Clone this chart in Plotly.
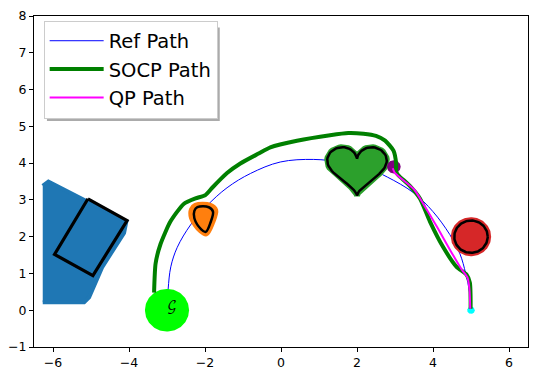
import numpy as np
import plotly.graph_objects as go

# ── Paths ─────────────────────────────────────────────────────────
ref_x = [-3.0, -2.97, -2.9, -2.73, -2.38, -1.94, -1.42, -0.8, -0.02, 0.86,
         1.6, 2.3, 2.8, 3.48, 4.0, 4.44, 4.71, 4.86, 4.96, 5.0]
ref_y = [0.0, 0.57, 1.18, 1.71, 2.32, 2.85, 3.33, 3.72, 4.03, 4.1,
         4.02, 3.85, 3.62, 3.2, 2.68, 2.06, 1.53, 1.0, 0.5, 0.0]

socp_x = [-3.34, -3.3, -3.17, -2.91, -2.56, -2.25, -1.99, -1.81, -1.42, -1.07,
          -0.59, -0.28, 0.42, 1.29, 1.77, 2.17, 2.5, 2.74, 2.96, 3.03,
          3.03, 3.08, 3.39, 3.66, 3.92, 4.27, 4.62, 4.88, 4.97, 4.99]
socp_y = [0.48, 1.27, 1.8, 2.41, 2.89, 3.04, 3.13, 3.33, 3.73, 3.99,
          4.26, 4.43, 4.61, 4.76, 4.82, 4.8, 4.74, 4.61, 4.34, 3.99,
          3.77, 3.68, 3.38, 3.03, 2.41, 1.71, 1.18, 0.97, 0.75, 0.04]

qp_x = [2.94, 3.0, 3.5, 3.77, 4.12, 4.46, 4.76, 4.91, 4.96, 4.98]
qp_y = [3.86, 3.73, 3.29, 2.85, 2.24, 1.62, 1.1, 0.88, 0.57, 0.04]

# ── Obstacles ─────────────────────────────────────────────────────
poly_x = [-6.27, -6.12, -4.07, -4.13, -4.7, -5.05, -5.18, -6.27]
poly_y = [3.38, 3.5, 2.41, 2.1, 1.18, 0.35, 0.22, 0.22]
rect_x = [-5.08, -4.05, -4.95, -5.96, -5.08]
rect_y = [3.03, 2.44, 0.94, 1.52, 3.03]

tri_x = [-2.2, -1.9, -1.79, -1.85, -1.98, -2.1, -2.28, -2.28, -2.2]
tri_y = [2.8, 2.8, 2.68, 2.4, 2.13, 2.2, 2.5, 2.7, 2.8]
tri_c = (-2.03, 2.47)

heart_c = (2.0, 3.89)
heart_s = (0.049, 0.0455)

red_c, red_r, red_rin = (5.0, 2.0), 0.53, 0.44
obs_c, obs_r = (2.97, 3.9), 0.18
goal_c, goal_r = (-3.0, 0.0), 0.58
start_c, start_r = (5.0, 0.0), 0.1

TAB_BLUE, TAB_ORANGE, TAB_GREEN, TAB_RED = "#1f77b4", "#ff7f0e", "#2ca02c", "#d62728"

t = np.linspace(0, 2 * np.pi, 120)


def circle(c, r):
    return c[0] + r * np.cos(t), c[1] + r * np.sin(t)


def blob(x, y, color, lw=0, shape="linear"):
    return go.Scatter(x=x, y=y, mode="lines", fill="toself", fillcolor=color,
                      line=dict(color=color, width=lw, shape=shape), showlegend=False,
                      hoverinfo="skip")


def outline(x, y, width=3, shape="linear"):
    return go.Scatter(x=x, y=y, mode="lines", line=dict(color="black", width=width, shape=shape),
                      showlegend=False, hoverinfo="skip")


fig = go.Figure()

# reference path (drawn first, obstacles cover it)
fig.add_trace(go.Scatter(x=ref_x, y=ref_y, mode="lines", name="Ref Path",
                         line=dict(color="blue", width=1, shape="spline")))

# left polygon obstacle
fig.add_trace(blob(poly_x, poly_y, TAB_BLUE, lw=4))
fig.add_trace(outline(rect_x, rect_y, width=3.2))

# orange rounded triangle
tx = np.array(tri_x); ty = np.array(tri_y)
fig.add_trace(blob(tri_c[0] + (tx - tri_c[0]) * 1.35, tri_c[1] + (ty - tri_c[1]) * 1.2,
                   TAB_ORANGE, lw=4, shape="spline"))
fig.add_trace(outline(tri_x, tri_y, width=2.5, shape="spline"))

# heart
hx = heart_c[0] + heart_s[0] * 16 * np.sin(t) ** 3
hy = heart_c[1] + heart_s[1] * (13 * np.cos(t) - 5 * np.cos(2 * t) - 2 * np.cos(3 * t) - np.cos(4 * t))
fig.add_trace(blob(hx, hy, TAB_GREEN, lw=6))
fig.add_trace(outline(hx, hy, width=2.5))

# red circle
fig.add_trace(blob(*circle(red_c, red_r), TAB_RED))
fig.add_trace(outline(*circle(red_c, red_rin), width=2.5))

# small purple obstacle, goal and start
fig.add_trace(blob(*circle(obs_c, obs_r), "purple"))
fig.add_trace(blob(*circle(goal_c, goal_r), "lime"))
fig.add_trace(blob(*circle(start_c, start_r), "cyan"))

fig.add_trace(go.Scatter(x=socp_x, y=socp_y, mode="lines", name="SOCP Path",
                         line=dict(color="green", width=4, shape="spline", smoothing=0.6)))
fig.add_trace(go.Scatter(x=qp_x, y=qp_y, mode="lines", name="QP Path",
                         line=dict(color="magenta", width=2, shape="spline", smoothing=0.6)))

fig.add_annotation(x=-2.88, y=0.08, text="𝒢", showarrow=False,
                   font=dict(size=13, color="black", family="DejaVu Math TeX Gyre, DejaVu Serif"))

# legend shadow (box sits at roughly x 44-217, y 21-117 px)
L, T, W, H = 33, 11, 496, 342
fig.add_shape(type="rect", xref="paper", yref="paper", layer="above",
              x0=(46 - L) / W, x1=(219.5 - L) / W,
              y0=1 - (119.5 - T) / H, y1=1 - (23 - T) / H,
              fillcolor="#ababab", line=dict(width=0))

axis = dict(showline=True, mirror=True, linecolor="black", linewidth=1,
            ticks="outside", ticklen=4, tickcolor="black", showgrid=False,
            zeroline=False, tickfont=dict(size=12.5, color="black"))

fig.update_layout(
    width=537, height=378,
    paper_bgcolor="white", plot_bgcolor="white",
    font=dict(family="DejaVu Sans", color="black"),
    margin=dict(l=L, r=537 - L - W, t=T, b=378 - T - H),
    xaxis=dict(range=[-6.5, 6.5], tickvals=[-6, -4, -2, 0, 2, 4, 6], **axis),
    yaxis=dict(range=[-1, 8], dtick=1, **axis),
    legend=dict(x=(42.7 - L) / W, y=1 - (15.7 - T) / H, xanchor="left", yanchor="top",
                bgcolor="white", bordercolor="#cccccc", borderwidth=1,
                font=dict(size=19.5), itemwidth=54,
                traceorder="normal"),
)

fig.write_html("out.html", config={"displayModeBar": False},
               post_script="document.body.style.margin='0';")
